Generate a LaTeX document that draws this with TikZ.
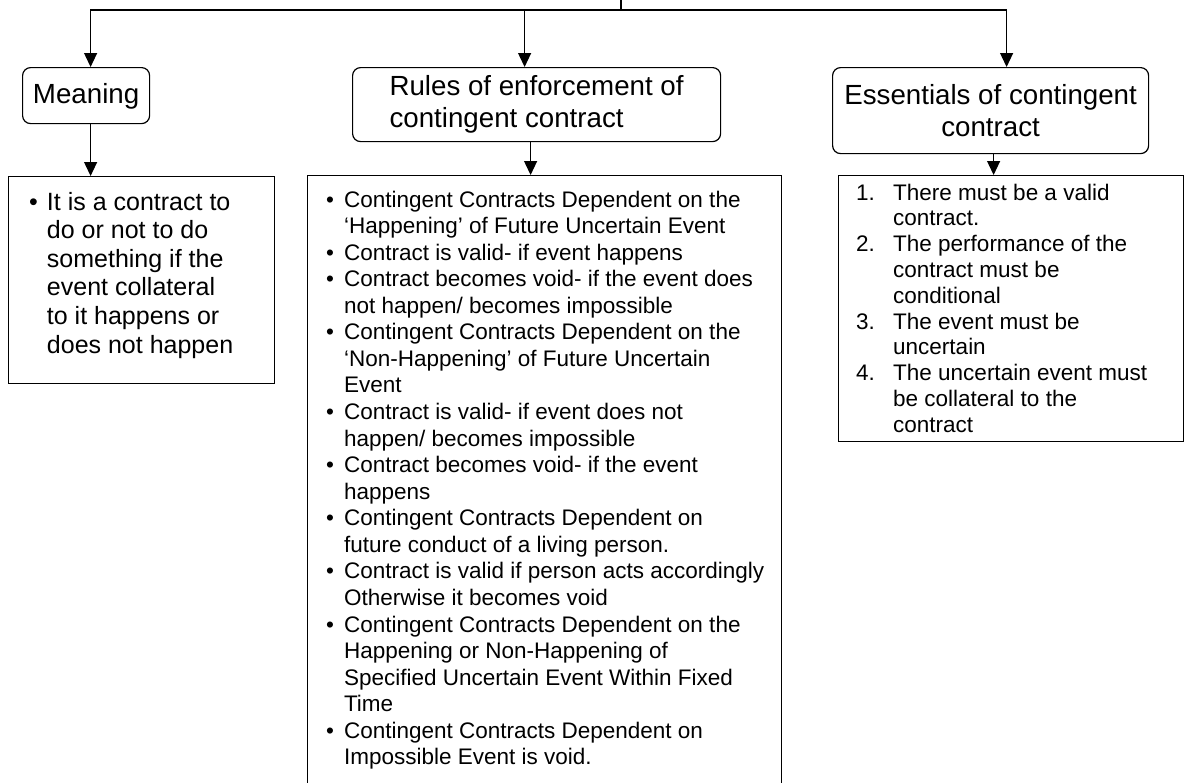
\documentclass[tikz,border=0pt]{standalone}
\usepackage{fontspec}
\setmainfont{Liberation Sans}
\usetikzlibrary{arrows.meta}

\tikzset{
  headbox/.style={draw, line width=1.2pt, rounded corners=8pt, inner sep=0pt,
    anchor=north west, font=\fontsize{27.7}{32}\selectfont},
  listbox/.style={draw, line width=1.2pt, inner sep=0pt, anchor=north west},
  listtext/.style={inner sep=0pt, anchor=base west},
  arr/.style={line width=1.2pt, -{Triangle[width=13pt,length=14pt]}},
}

\begin{document}
\begin{tikzpicture}[x=1pt, y=-1pt]
    \clip (0,0) rectangle (1185,782);
    % Heading boxes
    \node[headbox, minimum width=127pt, minimum height=56pt, text height=20pt, text depth=4pt] (meaning) at (22,67) {Meaning};
    \node[headbox, minimum width=368pt, minimum height=74pt, align=left] (rules) at (352,67) {Rules of enforcement of\\contingent contract};
    \node[headbox, minimum width=316pt, minimum height=86pt, align=center] (essentials) at (832,67) {Essentials of contingent\\contract};
    % List boxes
    \node[listbox, minimum width=266pt, minimum height=207pt] (meaningList) at (8,176) {};
    \node[listbox, minimum width=474pt, minimum height=620pt] (rulesList) at (307,175) {};
    \node[listbox, minimum width=345pt, minimum height=266pt] (essentialsList) at (838,175) {};
    % Top connector
    \coordinate (top) at (621,0);
    \coordinate (bus) at (621,10);
    \draw[line width=1.2pt] (top) -- (bus);
    \draw[arr] (bus) -| ([xshift=4.5pt]meaning.north);
    \draw[arr] (bus) -| ([xshift=-12pt]rules.north);
    \draw[arr] (bus) -| ([xshift=16pt]essentials.north);
    % Down to the lists
    \coordinate (mDown) at ([xshift=4.5pt]meaning.south);
    \coordinate (rDown) at ([xshift=-6pt]rules.south);
    \coordinate (eDown) at ([xshift=3pt]essentials.south);
    \draw[arr] (mDown) -- (mDown |- meaningList.north);
    \draw[arr] (rDown) -- (rDown |- rulesList.north);
    \draw[arr] (eDown) -- (eDown |- essentialsList.north);
    % Texts
    \node[listtext, font=\fontsize{25}{28.6}\selectfont] (meaningText) at (29,210) {%
      \begin{tabular}[t]{@{}l@{\hspace{9pt}}l@{}}
        \textbullet & It is a contract to\\
                    & do or not to do\\
                    & something if the\\
                    & event collateral\\
                    & to it happens or\\
                    & does not happen
      \end{tabular}};
    \node[listtext, font=\fontsize{22.5}{26.57}\selectfont] (rulesText) at (326,207) {%
      \begin{tabular}[t]{@{}l@{\hspace{10pt}}l@{}}
        \textbullet & Contingent Contracts Dependent on the\\
                    & ‘Happening’ of Future Uncertain Event\\
        \textbullet & Contract is valid- if event happens\\
        \textbullet & Contract becomes void- if the event does\\
                    & not happen/ becomes impossible\\
        \textbullet & Contingent Contracts Dependent on the\\
                    & ‘Non-Happening’ of Future Uncertain\\
                    & Event\\
        \textbullet & Contract is valid- if event does not\\
                    & happen/ becomes impossible\\
        \textbullet & Contract becomes void- if the event\\
                    & happens\\
        \textbullet & Contingent Contracts Dependent on\\
                    & future conduct of a living person.\\
        \textbullet & Contract is valid if person acts accordingly\\
                    & Otherwise it becomes void\\
        \textbullet & Contingent Contracts Dependent on the\\
                    & Happening or Non-Happening of\\
                    & Specified Uncertain Event Within Fixed\\
                    & Time\\
        \textbullet & Contingent Contracts Dependent on\\
                    & Impossible Event is void.
      \end{tabular}};
    \node[listtext, font=\fontsize{22.5}{25.8}\selectfont] (essentialsText) at (856,200) {%
      \begin{tabular}[t]{@{}l@{}l@{}}
        \makebox[37pt][l]{1.} & There must be a valid\\
                              & contract.\\
        \makebox[37pt][l]{2.} & The performance of the\\
                              & contract must be\\
                              & conditional\\
        \makebox[37pt][l]{3.} & The event must be\\
                              & uncertain\\
        \makebox[37pt][l]{4.} & The uncertain event must\\
                              & be collateral to the\\
                              & contract
      \end{tabular}};
\end{tikzpicture}
\end{document}
